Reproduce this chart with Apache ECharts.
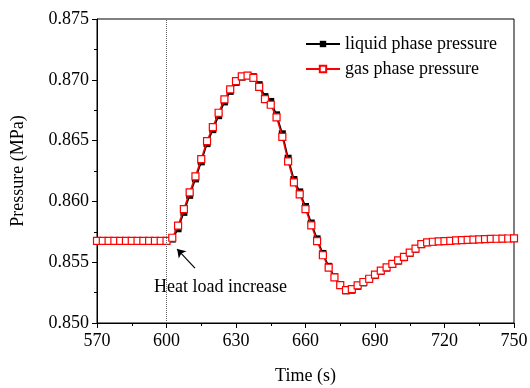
<!DOCTYPE html>
<html>
<head>
<meta charset="utf-8">
<script src="https://cdn.jsdelivr.net/npm/echarts@6/dist/echarts.min.js"></script>
<style>
  html, body { margin: 0; padding: 0; background: #fff; }
  #main { width: 530px; height: 388px; }
</style>
</head>
<body>
<div id="main"></div>
<script>
var times = [570, 572.5, 575, 577.5, 580, 582.5, 585, 587.5, 590, 592.5, 595, 597.5,
  600, 602.5, 605, 607.5, 610, 612.5, 615, 617.5, 620, 622.5, 625, 627.5,
  630, 632.5, 635, 637.5, 640, 642.5, 645, 647.5, 650, 652.5, 655, 657.5,
  660, 662.5, 665, 667.5, 670, 672.5, 675, 677.5, 680, 682.5, 685, 687.5,
  690, 692.5, 695, 697.5, 700, 702.5, 705, 707.5, 710, 712.5, 715, 717.5,
  720, 722.5, 725, 727.5, 730, 732.5, 735, 737.5, 740, 742.5, 745, 747.5, 750];

var gasPressure = [0.85675, 0.85675, 0.85675, 0.85675, 0.85675, 0.85675, 0.85675, 0.85675, 0.85675, 0.85675, 0.85675, 0.85675,
  0.85675, 0.85701, 0.85800, 0.85937, 0.86074, 0.86206, 0.86348, 0.86496, 0.86611, 0.86729, 0.86839, 0.86921,
  0.86989, 0.87028, 0.87035, 0.87016, 0.86942, 0.86841, 0.86795, 0.86691, 0.86531, 0.86329, 0.86157, 0.86058,
  0.85937, 0.85803, 0.85674, 0.85557, 0.85455, 0.85376, 0.85312, 0.85271, 0.85279, 0.85310, 0.85337, 0.85364,
  0.85397, 0.85430, 0.85458, 0.85487, 0.85515, 0.85543, 0.85578, 0.85611, 0.85649, 0.85663, 0.85668, 0.85671,
  0.85674, 0.85676, 0.85679, 0.85681, 0.85684, 0.85686, 0.85688, 0.85690, 0.85692, 0.85693, 0.85694, 0.85695, 0.85696];

var liquidPressure = [0.85675, 0.85675, 0.85675, 0.85675, 0.85675, 0.85675, 0.85675, 0.85675, 0.85675, 0.85675, 0.85675, 0.85675,
  0.85675, 0.85690, 0.85775, 0.85910, 0.86050, 0.86185, 0.86325, 0.86475, 0.86590, 0.86705, 0.86818, 0.86905,
  0.86978, 0.87022, 0.87036, 0.87025, 0.86960, 0.86862, 0.86822, 0.86712, 0.86556, 0.86355, 0.86180, 0.86078,
  0.85958, 0.85822, 0.85692, 0.85572, 0.85466, 0.85382, 0.85310, 0.85265, 0.85270, 0.85302, 0.85330, 0.85358,
  0.85390, 0.85424, 0.85452, 0.85481, 0.85509, 0.85537, 0.85572, 0.85606, 0.85645, 0.85661, 0.85667, 0.85670,
  0.85673, 0.85675, 0.85678, 0.85680, 0.85683, 0.85685, 0.85687, 0.85689, 0.85691, 0.85692, 0.85693, 0.85694, 0.85695];

var xTicks = [570, 600, 630, 660, 690, 720, 750];
var yTicks = [0.850, 0.855, 0.860, 0.865, 0.870, 0.875];

var heatTime = 600;
var noteText = 'Heat load increase';

function pairs(xs, ys) {
  return xs.map(function (x, i) { return [x, ys[i]]; });
}

var myChart = echarts.init(document.getElementById('main'));
var font = 'Liberation Serif, Times New Roman, serif';

var option = {
  textStyle: { fontFamily: font },
  animation: false,
  grid: {
    left: 97, right: 16, top: 19, bottom: 65,
    outerBoundsMode: 'none',
    show: true, borderColor: '#000', borderWidth: 1
  },
  legend: {
    orient: 'vertical',
    left: 300, top: 30,
    itemWidth: 34, itemHeight: 8, itemGap: 7,
    textStyle: { fontFamily: font, fontSize: 18, color: '#000' },
    data: ['liquid phase pressure', 'gas phase pressure']
  },
  xAxis: {
    type: 'value',
    min: xTicks[0], max: xTicks[xTicks.length - 1], interval: 30,
    name: 'Time (s)', nameLocation: 'middle', nameGap: 44,
    nameTextStyle: { fontFamily: font, fontSize: 18, color: '#000' },
    axisLine: { lineStyle: { color: '#000', width: 1 } },
    axisTick: { inside: false, length: 5, lineStyle: { color: '#000' } },
    minorTick: { show: true, splitNumber: 2, length: 3, lineStyle: { color: '#000' } },
    axisLabel: { fontFamily: font, fontSize: 18, color: '#000', margin: 9 },
    splitLine: { show: false }
  },
  yAxis: {
    type: 'value',
    min: yTicks[0], max: yTicks[yTicks.length - 1], interval: 0.005,
    name: 'Pressure (MPa)', nameLocation: 'middle', nameGap: 70,
    nameTextStyle: { fontFamily: font, fontSize: 18, color: '#000' },
    axisLine: { show: true, lineStyle: { color: '#000', width: 1 } },
    axisTick: { show: true, inside: false, length: 5, lineStyle: { color: '#000' } },
    minorTick: { show: true, splitNumber: 2, length: 3, lineStyle: { color: '#000' } },
    axisLabel: {
      fontFamily: font, fontSize: 18, color: '#000', margin: 8,
      formatter: function (v) { return v.toFixed(3); }
    },
    splitLine: { show: false }
  },
  series: [
    {
      name: 'liquid phase pressure',
      type: 'line',
      data: pairs(times, liquidPressure),
      symbol: 'rect',
      symbolSize: 7,
      itemStyle: { color: '#000' },
      lineStyle: { color: '#000', width: 1.5 },
      z: 2,
      markLine: {
        silent: true,
        symbol: 'none',
        label: { show: false },
        lineStyle: { color: '#666', type: 'dotted', width: 1 },
        data: [{ xAxis: heatTime }]
      }
    },
    {
      name: 'gas phase pressure',
      type: 'line',
      data: pairs(times, gasPressure),
      symbol: 'rect',
      symbolSize: 7,
      itemStyle: { color: '#fff', borderColor: '#f00', borderWidth: 1.2 },
      lineStyle: { color: '#f00', width: 1.5 },
      z: 3,
      markLine: {
        silent: true,
        symbol: ['none', 'arrow'],
        symbolSize: 8,
        label: { show: false },
        lineStyle: { color: '#000', type: 'solid', width: 1.2 },
        data: [[{ coord: [612.3, 0.85452] }, { coord: [604.6, 0.85608] }]]
      },
      markPoint: {
        silent: true,
        symbol: 'circle',
        symbolSize: 0,
        label: {
          show: true, formatter: noteText,
          fontFamily: font, fontSize: 18, color: '#000'
        },
        data: [{ coord: [623.3, 0.85295] }]
      }
    }
  ]
};

myChart.setOption(option);
</script>
</body>
</html>
